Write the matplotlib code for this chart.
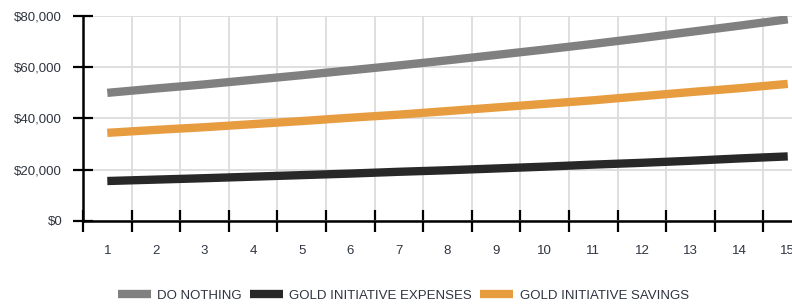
import matplotlib
matplotlib.use('Agg')
import matplotlib.pyplot as plt
from matplotlib.ticker import FuncFormatter, FixedLocator

plt.rcParams['font.family'] = ['Liberation Sans Narrow', 'Liberation Sans', 'DejaVu Sans']

years = list(range(1, 16))
do_nothing = [50000, 51700, 53300, 55100, 56900, 58800, 60700, 62700,
              64800, 66900, 69100, 71400, 73800, 76200, 78700]
gold_expenses = [15600, 16150, 16700, 17300, 17900, 18500, 19200, 19800,
                 20500, 21200, 22000, 22700, 23500, 24400, 25200]
gold_savings = [34400, 35550, 36600, 37800, 39000, 40300, 41500, 42900,
                44300, 45700, 47100, 48700, 50300, 51800, 53500]

series = [
    ('DO NOTHING', do_nothing, '#808080'),
    ('GOLD INITIATIVE EXPENSES', gold_expenses, '#282828'),
    ('GOLD INITIATIVE SAVINGS', gold_savings, '#e69c3f'),
]

fig = plt.figure(figsize=(7.92, 3.06), dpi=100)
ax = fig.add_axes([0.1048, 0.2778, 0.9205, 0.67])

for name, vals, color in series:
    ax.plot(years, vals, color=color, linewidth=6, solid_capstyle='butt', label=name, zorder=3)

ax.set_xlim(0.5, 15.5)
ax.set_ylim(0, 80000)
ax.set_yticks([0, 20000, 40000, 60000, 80000])
ax.yaxis.set_major_formatter(FuncFormatter(lambda v, p: f'${v:,.0f}'))

ax.set_xticks(years)
ax.xaxis.set_minor_locator(FixedLocator([i + 0.5 for i in range(0, 16)]))
ax.tick_params(axis='x', which='major', length=0, pad=17, labelsize=9.5, labelcolor='#2e3440')
ax.tick_params(axis='x', which='minor', direction='inout', length=16, width=1.6, color='black')
ax.tick_params(axis='y', which='major', direction='inout', length=14, width=1.6, color='black',
               labelsize=9.5, labelcolor='#2e3440', pad=8)

ax.grid(axis='y', which='major', color='#dcdcdc', linewidth=1.3, zorder=0)
ax.grid(axis='x', which='minor', color='#dcdcdc', linewidth=1.3, zorder=0)

for side in ['top', 'right']:
    ax.spines[side].set_visible(False)
for side in ['left', 'bottom']:
    ax.spines[side].set_linewidth(1.8)
    ax.spines[side].set_color('black')

fig.legend(loc='center', bbox_to_anchor=(0.509, 0.033), ncol=3, frameon=False,
           fontsize=9.5, handlelength=2.5, handletextpad=0.5, columnspacing=0.6,
           labelcolor='#2e3440')

plt.savefig('out.png', dpi=100)
plt.close()
